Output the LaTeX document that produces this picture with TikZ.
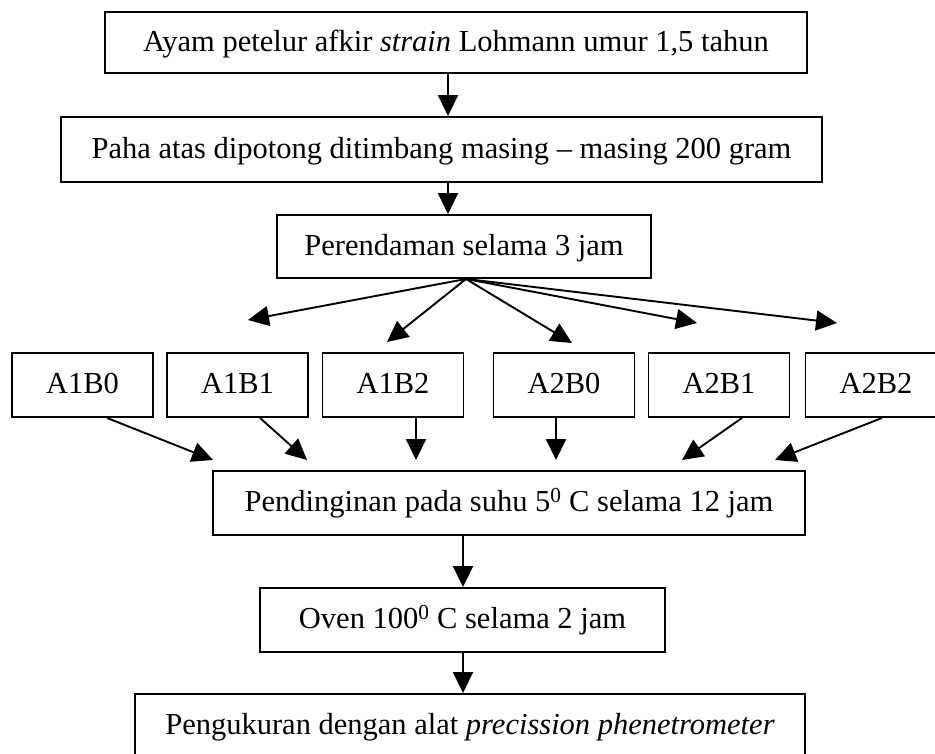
\documentclass[tikz,border=0pt]{standalone}
\usepackage{fontspec}
\setmainfont{Liberation Serif}
\usetikzlibrary{arrows.meta,calc}
\begin{document}
\begin{tikzpicture}[x=1pt,y=-1pt,
  box/.style={draw,line width=1.9pt,inner sep=0pt,minimum height=64pt,text height=24pt,text depth=7pt,font=\fontsize{30.5}{36}\selectfont},
  small/.style={box,minimum width=141pt},
  arr/.style={line width=1.9pt,-{Triangle[length=21pt,width=20pt]}}]
\useasboundingbox (0,0) rectangle (935,753);
\clip (0,0) rectangle (935,753);
% main boxes
\node[box,minimum width=702pt,minimum height=61pt] (b1) at (456,42.5) {Ayam petelur afkir \textit{strain} Lohmann umur 1,5 tahun};
\node[box,minimum width=761pt,minimum height=65pt] (b2) at (441.5,149.5) {Paha atas dipotong ditimbang masing -- masing 200 gram};
\node[box,minimum width=374pt,minimum height=63pt] (b3) at (464,246.5) {Perendaman selama 3 jam};
% treatment boxes
\node[small] (a10) at (82.5,385) {A1B0};
\node[small] (a11) at (237.5,385) {A1B1};
\node[small] (a12) at (393,385) {A1B2};
\node[small] (a20) at (564,385) {A2B0};
\node[small] (a21) at (719,385) {A2B1};
\node[small] (a22) at (876,385) {A2B2};
% lower boxes
\node[box,minimum width=592pt] (p) at (509,503) {Pendinginan pada suhu 5\textsuperscript{0} C selama 12 jam};
\node[box,minimum width=405pt] (o) at (462.5,620) {Oven 100\textsuperscript{0} C selama 2 jam};
\node[box,minimum width=670pt] (m) at (470,726) {Pengukuran dengan alat \textit{precission phenetrometer}};
% helper coordinates
\coordinate (ax) at (448,0);
\coordinate (bx) at (463,0);
\coordinate (fx) at (466,0);
\coordinate (f1) at (248,320);
\coordinate (f2) at (387,342);
\coordinate (f3) at (572,343);
\coordinate (f4) at (697,323);
\coordinate (f5) at (837,323);
\coordinate (s1) at (107,0);
\coordinate (s2) at (260,0);
\coordinate (s3) at (416,0);
\coordinate (s4) at (556,0);
\coordinate (s5) at (742,0);
\coordinate (s6) at (882,0);
\coordinate (t1) at (213,460);
\coordinate (t2) at (307,460);
\coordinate (t3) at (416,460);
\coordinate (t4) at (556,460);
\coordinate (t5) at (682,460);
\coordinate (t6) at (775,460);
% connectors
\draw[arr] (b1.south -| ax) -- (b2.north -| ax);
\draw[arr] (b2.south -| ax) -- (b3.north -| ax);
\foreach \f in {f1,f2,f3,f4,f5} \draw[arr] (b3.south -| fx) -- (\f);
\draw[arr] (a10.south -| s1) -- (t1);
\draw[arr] (a11.south -| s2) -- (t2);
\draw[arr] (a12.south -| s3) -- (t3);
\draw[arr] (a20.south -| s4) -- (t4);
\draw[arr] (a21.south -| s5) -- (t5);
\draw[arr] (a22.south -| s6) -- (t6);
\draw[arr] (p.south -| bx) -- (o.north -| bx);
\draw[arr] (o.south -| bx) -- (m.north -| bx);
\end{tikzpicture}
\end{document}
